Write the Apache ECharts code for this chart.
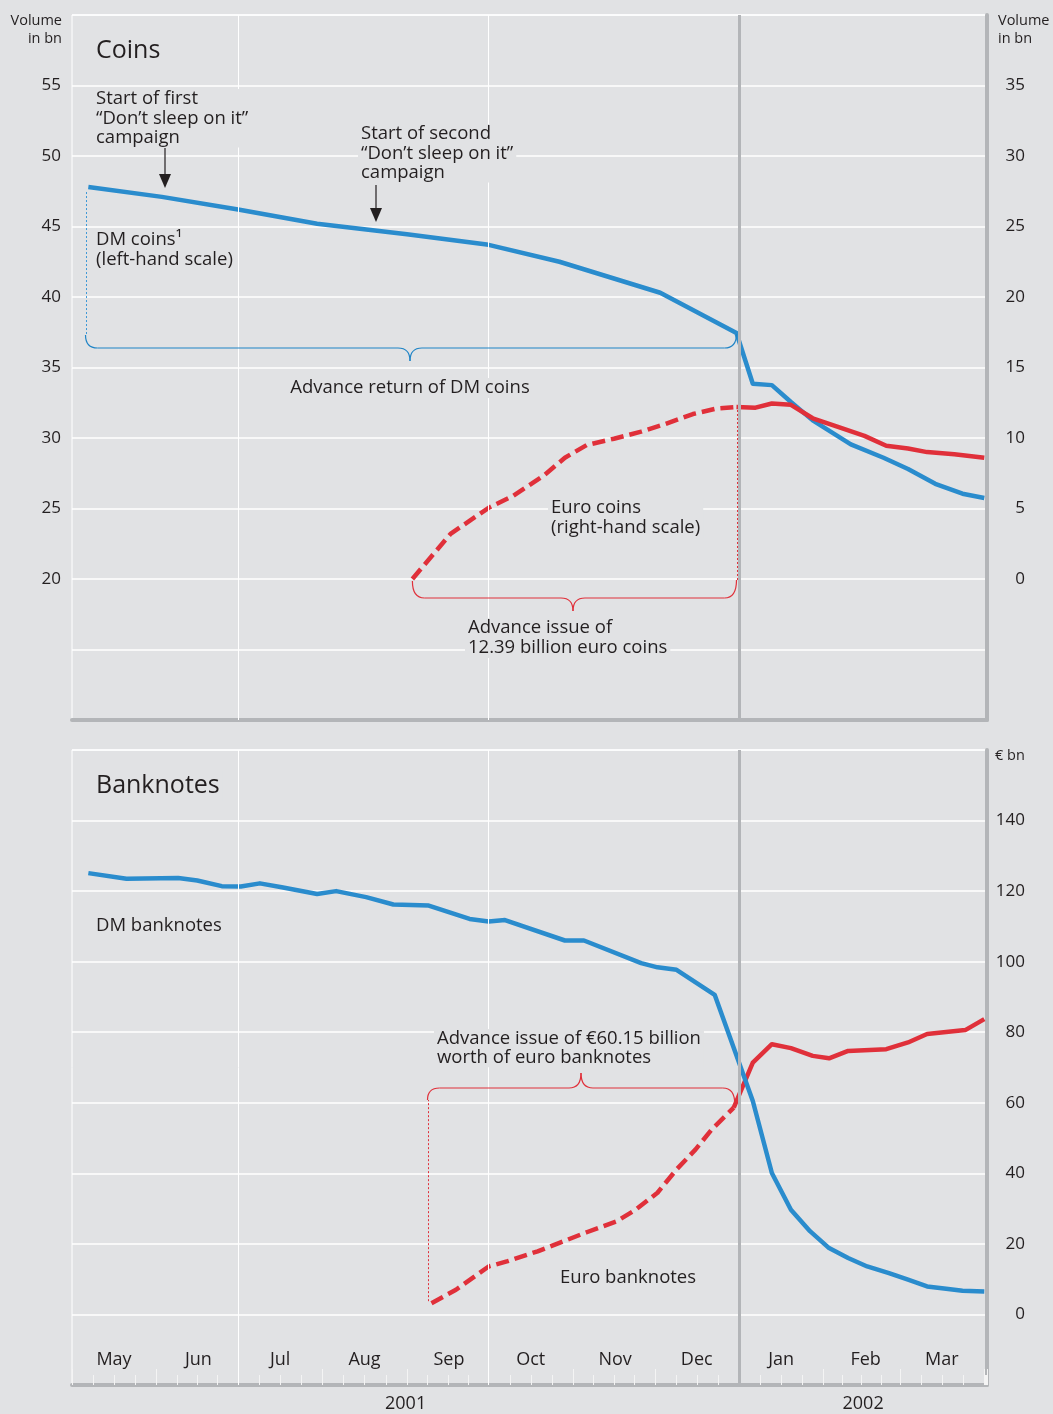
<!DOCTYPE html>
<html>
<head>
<meta charset="utf-8">
<script src="https://cdn.jsdelivr.net/npm/echarts@6/dist/echarts.min.js"></script>
<style>
  html, body { margin: 0; padding: 0; background: #e1e2e4; }
  #chart { width: 1053px; height: 1414px; }
</style>
</head>
<body>
<div id="chart"></div>
<script>
// --- data ---
const monthNames = ['Jan', 'Feb', 'Mar', 'Apr', 'May', 'Jun', 'Jul', 'Aug', 'Sep', 'Oct', 'Nov', 'Dec'];
const xMin = '2001-05-01';
const xMax = '2002-04-02';
const gridDates = ['2001-07-01', '2001-10-01'];
const changeoverDate = '2002-01-01';
const years = [['2001', '2001-05-01', '2002-01-01'], ['2002', '2002-01-01', '2002-04-02']];

// coins, volume in bn
const dmCoins = [
  ['2001-05-07', 47.8], ['2001-06-03', 47.1], ['2001-07-01', 46.2], ['2001-07-30', 45.2],
  ['2001-09-01', 44.45], ['2001-10-01', 43.7], ['2001-10-27', 42.5], ['2001-12-03', 40.3],
  ['2001-12-31', 37.45], ['2002-01-06', 33.85], ['2002-01-13', 33.75], ['2002-01-20', 32.55],
  ['2002-01-28', 31.25], ['2002-02-11', 29.55], ['2002-02-23', 28.6], ['2002-03-04', 27.8],
  ['2002-03-14', 26.75], ['2002-03-24', 26.05], ['2002-04-01', 25.75]
];
const euroCoinsAdvance = [
  ['2001-09-03', 0], ['2001-09-17', 3.2], ['2001-10-01', 5.05], ['2001-10-10', 5.9],
  ['2001-10-21', 7.3], ['2001-10-29', 8.6], ['2001-11-06', 9.5], ['2001-11-16', 9.95],
  ['2001-11-26', 10.45], ['2001-12-05', 11.0], ['2001-12-15', 11.7], ['2001-12-24', 12.1],
  ['2001-12-31', 12.2]
];
const euroCoins = [
  ['2001-12-31', 12.2], ['2002-01-07', 12.15], ['2002-01-13', 12.45], ['2002-01-20', 12.35],
  ['2002-01-28', 11.4], ['2002-02-06', 10.8], ['2002-02-16', 10.15], ['2002-02-24', 9.45],
  ['2002-03-04', 9.25], ['2002-03-11', 9.0], ['2002-03-21', 8.85], ['2002-04-01', 8.6]
];

// banknotes, € bn
const dmNotes = [
  ['2001-05-07', 125.1], ['2001-05-21', 123.5], ['2001-06-09', 123.7], ['2001-06-16', 123.0],
  ['2001-06-25', 121.4], ['2001-07-02', 121.3], ['2001-07-09', 122.2], ['2001-07-17', 121.1],
  ['2001-07-30', 119.2], ['2001-08-06', 120.0], ['2001-08-17', 118.3], ['2001-08-27', 116.2],
  ['2001-09-09', 115.9], ['2001-09-24', 112.1], ['2001-10-01', 111.4], ['2001-10-07', 111.8],
  ['2001-10-29', 106.0], ['2001-11-05', 106.0], ['2001-11-26', 99.6], ['2001-12-02', 98.4],
  ['2001-12-09', 97.7], ['2001-12-23', 90.6], ['2002-01-06', 60.5], ['2002-01-13', 40.1],
  ['2002-01-20', 29.7], ['2002-01-27', 23.6], ['2002-02-03', 18.8], ['2002-02-10', 16.0],
  ['2002-02-17', 13.6], ['2002-02-25', 11.7], ['2002-03-04', 9.85], ['2002-03-11', 7.95],
  ['2002-03-18', 7.3], ['2002-03-24', 6.7], ['2002-04-01', 6.5]
];
const euroNotesAdvance = [
  ['2001-09-10', 3.2], ['2001-09-19', 7.0], ['2001-10-01', 13.6], ['2001-10-08', 15.1],
  ['2001-10-19', 17.9], ['2001-10-27', 20.3], ['2001-11-06', 23.3], ['2001-11-17', 26.4],
  ['2001-11-24', 29.7], ['2001-12-02', 34.5], ['2001-12-09', 41.1], ['2001-12-16', 46.8],
  ['2001-12-22', 52.5], ['2001-12-30', 58.6]
];
const euroNotes = [
  ['2001-12-30', 58.6], ['2002-01-06', 71.4], ['2002-01-13', 76.6], ['2002-01-20', 75.5],
  ['2002-01-28', 73.3], ['2002-02-03', 72.6], ['2002-02-10', 74.7], ['2002-02-24', 75.2],
  ['2002-03-04', 77.1], ['2002-03-11', 79.5], ['2002-03-25', 80.6], ['2002-04-01', 83.7]
];

// --- styles ---
const BG = '#e1e2e4';
const FRAME = '#b3b5b8';
const INK = '#231f20';
const BLUE = '#2a8ccd';
const RED = '#e0303a';
const FONT = '"Open Sans", "Noto Sans", sans-serif';
const NOTE = '18.5px ' + FONT;

const chart = echarts.init(document.getElementById('chart'));

const rangeLabel = (lo, hi) => v => (v >= lo && v <= hi ? String(v) : '');

const vLines = (xi, yi) => ({
  type: 'line', xAxisIndex: xi, yAxisIndex: yi, data: [], z: 1, silent: true,
  markLine: {
    silent: true, symbol: 'none', label: { show: false }, animation: false,
    data: gridDates.map(d => ({ xAxis: d, lineStyle: { color: '#fff', width: 1, type: 'solid' } }))
      .concat([{ xAxis: changeoverDate, lineStyle: { color: FRAME, width: 3, type: 'solid' } }])
  }
});

const lineSeries = (data, xi, yi, color, dashed, z) => ({
  type: 'line', data, xAxisIndex: xi, yAxisIndex: yi, symbol: 'none', z: z || 3,
  lineStyle: { color, width: 4.5, type: dashed ? [13, 6] : 'solid', cap: 'butt', join: 'round' }
});

const timeAxis = (gi, withTicks) => ({
  type: 'time', gridIndex: gi, min: xMin, max: xMax,
  minInterval: 28 * 864e5, maxInterval: 31 * 864e5, splitNumber: 12,
  axisLine: { show: true, onZero: false, lineStyle: { color: FRAME, width: 4 } },
  axisTick: { show: withTicks, inside: true, length: 16, lineStyle: { color: '#f4f4f4', width: 1 } },
  minorTick: { show: withTicks, splitNumber: 4, length: 10, lineStyle: { color: '#f4f4f4', width: 1 } },
  splitLine: { show: false },
  axisLabel: {
    show: withTicks, inside: true, margin: 16, color: INK, fontSize: 18, fontFamily: FONT,
    padding: [0, 0, 0, 84], showMinLabel: true, showMaxLabel: false, hideOverlap: false,
    formatter: v => { const m = new Date(v).getMonth(); return m === 3 ? '' : monthNames[m]; }
  }
});

chart.setOption({
  backgroundColor: BG,
  animation: false,
  grid: [
    { left: 72, right: 66, top: 15, height: 705, show: true, borderColor: '#fff', borderWidth: 1 },
    { left: 72, right: 66, top: 750, height: 635, show: true, borderColor: '#fff', borderWidth: 1 }
  ],
  xAxis: [timeAxis(0, false), timeAxis(1, true)],
  yAxis: [
    {
      type: 'value', gridIndex: 0, position: 'left', min: 10, max: 60, interval: 5,
      axisLine: { show: false }, axisTick: { show: false },
      axisLabel: { formatter: rangeLabel(20, 55), margin: 11, color: INK, fontSize: 17, fontFamily: FONT },
      splitLine: { lineStyle: { color: '#fff', width: 1.5 } }
    },
    {
      type: 'value', gridIndex: 0, position: 'right', min: -10, max: 40, interval: 5,
      axisLine: { show: true, lineStyle: { color: FRAME, width: 4 } }, axisTick: { show: false },
      axisLabel: { formatter: rangeLabel(0, 35), align: 'right', margin: 38, color: INK, fontSize: 17, fontFamily: FONT },
      splitLine: { show: false }
    },
    {
      type: 'value', gridIndex: 1, position: 'right', min: -20, max: 160, interval: 20,
      axisLine: { show: true, lineStyle: { color: FRAME, width: 4 } }, axisTick: { show: false },
      axisLabel: { formatter: rangeLabel(0, 140), align: 'right', margin: 38, color: INK, fontSize: 17, fontFamily: FONT },
      splitLine: { lineStyle: { color: '#fff', width: 1.5 } }
    }
  ],
  series: [
    vLines(0, 0),
    vLines(1, 2),
    lineSeries(dmCoins, 0, 0, BLUE, false, 3),
    lineSeries(euroCoinsAdvance, 0, 1, RED, true, 4),
    lineSeries(euroCoins, 0, 1, RED, false, 4),
    lineSeries(dmNotes, 1, 2, BLUE, false, 4),
    lineSeries(euroNotesAdvance, 1, 2, RED, true, 3),
    lineSeries(euroNotes, 1, 2, RED, false, 3)
  ]
});

// --- annotations ---
const px = (xi, yi, d) => chart.convertToPixel({ xAxisIndex: xi, yAxisIndex: yi }, d);
const snap = v => Math.round(v) + 0.5;

const txt = (x, y, s, extra) => ({
  type: 'text', z: 100,
  style: Object.assign({
    x, y, text: s, font: NOTE, fill: INK, lineHeight: 20,
    align: 'left', verticalAlign: 'top', textAlign: 'left', textVerticalAlign: 'top',
    backgroundColor: BG, padding: [0, 3]
  }, extra || {})
});

// curly brace from quadratic curves and straight pieces
const brace = (x1, y1, x2, y2, yb, xm, yt, color) => {
  const r = 12;
  const st = { stroke: color, fill: 'none', lineWidth: 1.2 };
  const q = (ax, ay, cx, cy, bx, by) => ({ type: 'bezierCurve', z: 50, shape: { x1: ax, y1: ay, x2: bx, y2: by, cpx1: cx, cpy1: cy }, style: st });
  const l = (ax, ay, bx, by) => ({ type: 'line', z: 50, shape: { x1: ax, y1: ay, x2: bx, y2: by }, style: st });
  return [
    q(x1, y1, x1, yb, x1 + r, yb),
    l(x1 + r, yb, xm - r, yb),
    q(xm - r, yb, xm, yb, xm, yt),
    q(xm, yt, xm, yb, xm + r, yb),
    l(xm + r, yb, x2 - r, yb),
    q(x2 - r, yb, x2, yb, x2, y2)
  ];
};

const dotted = (x, y1, y2, color) => ({
  type: 'line', z: 50, shape: { x1: snap(x), y1, x2: snap(x), y2 }, style: { stroke: color, lineWidth: 1, lineDash: [2, 2] }
});

const arrow = (x, y1, y2) => ([
  { type: 'line', z: 60, shape: { x1: x, y1, x2: x, y2: y2 - 12 }, style: { stroke: INK, lineWidth: 1.2 } },
  { type: 'polygon', z: 60, shape: { points: [[x - 6, y2 - 14], [x + 6, y2 - 14], [x, y2]] }, style: { fill: INK } }
]);

const dmStart = px(0, 0, dmCoins[0]);
const dmEnd = px(0, 0, dmCoins[8]);
const ecStart = px(0, 1, euroCoinsAdvance[0]);
const ecEnd = px(0, 1, euroCoinsAdvance[euroCoinsAdvance.length - 1]);
const enStart = px(1, 2, euroNotesAdvance[0]);
const enEnd = px(1, 2, euroNotesAdvance[euroNotesAdvance.length - 1]);

const bx = x => px(1, 2, [x, 0])[0];
const yearY = 1403;
const dmL = snap(dmStart[0] - 3);
const ecR = snap(ecEnd[0]);
const enL = snap(enStart[0] - 4);

const graphic = [
  // axis captions
  txt(62, 12, 'Volume\nin bn', { font: '14.5px ' + FONT, lineHeight: 18, align: 'right', textAlign: 'right', padding: 0 }),
  txt(998, 12, 'Volume\nin bn', { font: '14.5px ' + FONT, lineHeight: 18, padding: 0 }),
  txt(995, 746, '€ bn', { font: '14.5px ' + FONT, padding: 0 }),
  // panel titles
  txt(93, 36, 'Coins', { font: '25px ' + FONT, lineHeight: 30 }),
  txt(93, 771, 'Banknotes', { font: '25px ' + FONT, lineHeight: 30 }),
  // coins notes
  txt(93, 89, 'Start of first\n“Don’t sleep on it”\ncampaign', { lineHeight: 19.5 }),
  txt(358, 124, 'Start of second\n“Don’t sleep on it”\ncampaign', { lineHeight: 19.5 }),
  txt(93, 230, 'DM coins¹\n(left-hand scale)'),
  txt(410, 378, 'Advance return of DM coins', { align: 'center', textAlign: 'center' }),
  txt(548, 498, 'Euro coins\n(right-hand scale)'),
  txt(465, 618, 'Advance issue of\n12.39 billion euro coins'),
  // banknote notes
  txt(93, 916, 'DM banknotes'),
  txt(434, 1029, 'Advance issue of €60.15 billion\nworth of euro banknotes', { lineHeight: 19 }),
  txt(557, 1268, 'Euro banknotes'),
  // years
  ...years.map(([label, a, b]) => txt((bx(a) + bx(b)) / 2, yearY - 9, label, { font: '18px ' + FONT, align: 'center', textAlign: 'center', padding: 0 })),
  // arrows
  ...arrow(165, 148, 188),
  ...arrow(376, 185, 222),
  // DM coins brace
  dotted(dmL, dmStart[1] + 5, 335, '#3d98d6'),
  ...brace(dmL, 335, dmEnd[0], dmEnd[1] + 1, 348, 410, 361, '#1f84c6'),
  // euro coins brace
  dotted(ecR, ecEnd[1] + 3, 580, RED),
  ...brace(ecStart[0], ecStart[1] + 2, ecR, 580, 598, 573, 611, RED),
  // euro banknotes brace
  dotted(enL, enStart[1] - 2, 1100, RED),
  ...brace(enL, 1100, enEnd[0] + 1, enEnd[1] - 4, 1088, 581, 1073, RED)
];

chart.setOption({ graphic });
</script>
</body>
</html>
